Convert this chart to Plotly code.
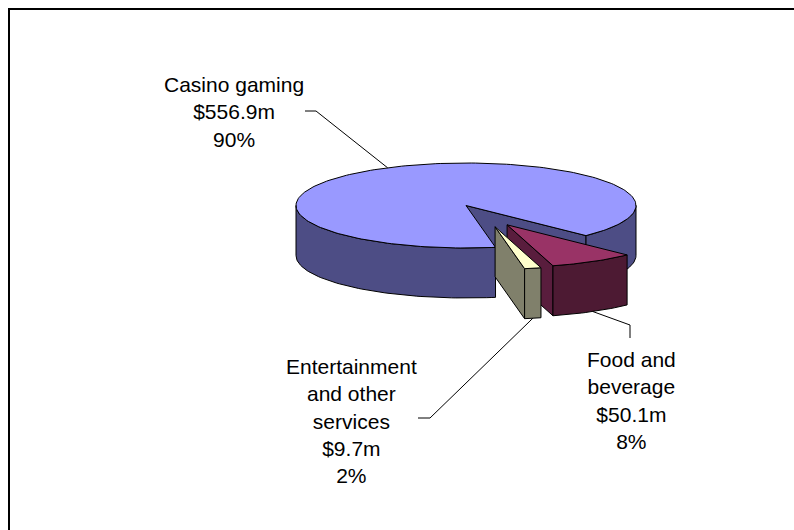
import math
import textwrap
import plotly.graph_objects as go

# Revenue by segment (US$ millions)
categories = ["Casino gaming", "Food and beverage", "Entertainment and other services"]
revenue_musd = [556.9, 50.1, 9.7]

# ---- styling -------------------------------------------------------------
W, H = 794, 530
top_colors = ["#9999FF", "#993366", "#FFFFCC"]
side_colors = ["#4D4D85", "#4D1A33", "#80806B"]
wall_colors = ["#4D4D85", "#591D3D", "#80806B"]
pull = [0.0, 0.515, 0.53]        # explosion as a fraction of the radius
pull_turn = [0.0, 2.3, -6.0]     # slight perspective bend of the explosion direction (deg)

# projected pie: centre, ellipse radii and thickness, in page pixels
CX, CY, RX, RY, DEPTH = 466, 205.5, 170, 42.5, 50
START_ANGLE = 80                  # degrees, clockwise from 3 o'clock
FONT = dict(family="Arial, Liberation Sans, sans-serif", size=21, color="black")

total = sum(revenue_musd)
spans = []
a = START_ANGLE
for v in revenue_musd:
    s = 360.0 * v / total
    spans.append((a, a + s))
    a += s


def pt(theta, dx, dy, h=0.0):
    t = math.radians(theta)
    return (CX + RX * math.cos(t) + dx, CY + RY * math.sin(t) + dy + h)


def arc(a1, a2, dx, dy, h=0.0):
    n = max(2, int(abs(a2 - a1) / 1.5) + 2)
    return [pt(a1 + (a2 - a1) * i / (n - 1), dx, dy, h) for i in range(n)]


fig = go.Figure()


def add_poly(pts, color):
    xs = [p[0] for p in pts] + [pts[0][0]]
    ys = [p[1] for p in pts] + [pts[0][1]]
    fig.add_trace(go.Scatter(
        x=xs, y=ys, mode="lines", fill="toself", fillcolor=color,
        line=dict(color="black", width=1), hoverinfo="skip", showlegend=False,
    ))


def add_line(pts):
    fig.add_trace(go.Scatter(
        x=[p[0] for p in pts], y=[p[1] for p in pts], mode="lines",
        line=dict(color="black", width=1), hoverinfo="skip", showlegend=False,
    ))


offsets = []
for i, (a1, a2) in enumerate(spans):
    direction = math.radians((a1 + a2) / 2 + pull_turn[i])
    dx = RX * pull[i] * math.cos(direction)
    dy = RY * pull[i] * math.sin(direction)
    offsets.append((dx, dy))
    apex_t = (CX + dx, CY + dy)
    apex_b = (CX + dx, CY + dy + DEPTH)

    # radial cut faces that turn towards the viewer
    if math.cos(math.radians(a2)) > 0:
        add_poly([apex_t, pt(a2, dx, dy), pt(a2, dx, dy, DEPTH), apex_b], wall_colors[i])
    if math.cos(math.radians(a1)) < 0:
        add_poly([apex_t, pt(a1, dx, dy), pt(a1, dx, dy, DEPTH), apex_b], wall_colors[i])

    # front part of the curved rim
    for k in range(-1, 3):
        s, e = max(a1, 360 * k), min(a2, 360 * k + 180)
        if s < e:
            add_poly(arc(s, e, dx, dy) + arc(e, s, dx, dy, DEPTH), side_colors[i])

    # top face
    add_poly([apex_t] + arc(a1, a2, dx, dy), top_colors[i])


# ---- data labels with leader lines ---------------------------------------
label_pos = [(233.5, 112.4), (631, 400.7), (351, 420.8)]
leader_bends = [[(316, 111), (305, 111)],
                [(630, 325), (630, 338)],
                [(430, 418), (418, 418)]]
annotations = []
for i, name in enumerate(categories):
    a1, a2 = spans[i]
    dx, dy = offsets[i]
    mid = (a1 + a2) / 2
    h = 0.0 if math.sin(math.radians(mid)) < 0 else DEPTH
    anchor = pt(mid, dx, dy, h)
    add_line([anchor] + leader_bends[i])

    pct = round(100 * revenue_musd[i] / total)
    text = "<br>".join(textwrap.wrap(name, width=13)
                       + [f"${revenue_musd[i]:.1f}m", f"{pct}%"])
    annotations.append(dict(
        x=label_pos[i][0], y=label_pos[i][1], xref="x", yref="y",
        text=text, showarrow=False, align="center",
        xanchor="center", yanchor="middle", font=FONT,
    ))

fig.update_layout(
    width=W, height=H,
    margin=dict(l=0, r=0, t=0, b=0),
    paper_bgcolor="white", plot_bgcolor="white",
    xaxis=dict(range=[0, W], visible=False, fixedrange=True),
    yaxis=dict(range=[H, 0], visible=False, fixedrange=True),
    annotations=annotations,
    shapes=[dict(type="rect", xref="x", yref="y", x0=9, y0=9, x1=W + 20, y1=H + 20,
                 line=dict(color="black", width=2), fillcolor="rgba(0,0,0,0)",
                 layer="above")],
    showlegend=False,
)

fig.write_html("out.html")
